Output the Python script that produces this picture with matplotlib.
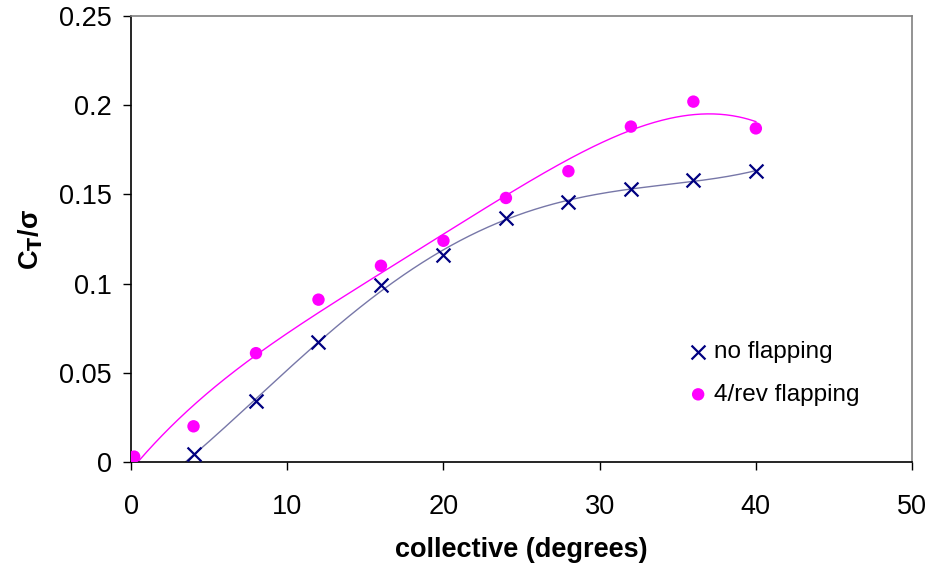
import numpy as np
import matplotlib
matplotlib.use("Agg")
import matplotlib.pyplot as plt

plt.rcParams['font.family'] = ['Liberation Sans', 'DejaVu Sans']

# data
x_noflap = [4, 8, 12, 16, 20, 24, 28, 32, 36, 40]
y_noflap = [0.0045, 0.034, 0.067, 0.099, 0.116, 0.137, 0.146, 0.153, 0.158, 0.163]
x_flap = [0.2, 4, 8, 12, 16, 20, 24, 28, 32, 36, 40]
y_flap = [0.003, 0.020, 0.061, 0.091, 0.110, 0.124, 0.148, 0.163, 0.188, 0.202, 0.187]
xticks = [0, 10, 20, 30, 40, 50]
yticks = [0, 0.05, 0.1, 0.15, 0.2, 0.25]
ytick_labels = ['0', '0.05', '0.1', '0.15', '0.2', '0.25']

fig = plt.figure(figsize=(9.32, 5.67), dpi=100)
ax = fig.add_axes([0.1406, 0.1852, 0.8380, 0.7866])

# polynomial trendlines (as in spreadsheet)
def trend(xs, ys, x0, x1, deg):
    c = np.polyfit(xs, ys, deg)
    xx = np.linspace(x0, x1, 400)
    yy = np.polyval(c, xx)
    m = yy >= 0
    return xx[m], yy[m]

tx, ty = trend(x_noflap, y_noflap, 0, 40, 4)
ax.plot(tx, ty, color='#7777a8', lw=1.0, zorder=2)
tx2, ty2 = trend(x_flap, y_flap, 0, 40, 4)
ax.plot(tx2, ty2, color='#ff00ff', lw=1.0, zorder=2)

ax.scatter(x_noflap, y_noflap, marker='x', s=100, color='#000080', linewidths=1.6,
           zorder=3, label='no flapping')
ax.scatter(x_flap, y_flap, marker='o', s=80, color='#ff00ff', edgecolors='none',
           zorder=3, label='4/rev flapping')

ax.set_xlim(0, 50)
ax.set_ylim(0, 0.25)
ax.set_xticks(xticks)
ax.set_yticks(yticks)
ax.set_yticklabels(ytick_labels)
ax.tick_params(axis='both', direction='out', length=6, width=1, labelsize=19.5, pad=8)
ax.tick_params(axis='x', pad=17)

for s in ['left', 'bottom']:
    ax.spines[s].set_color('black')
    ax.spines[s].set_linewidth(1.2)
for s in ['top', 'right']:
    ax.spines[s].set_color('#808080')
    ax.spines[s].set_linewidth(1.2)

ax.set_xlabel('collective (degrees)', fontsize=19.5, fontweight='bold', labelpad=12)
ax.set_ylabel(r'C$_\mathbf{T}$/σ', fontsize=19.5, fontweight='bold', labelpad=10)

leg = ax.legend(loc='upper left', bbox_to_anchor=(0.695, 0.293), frameon=False,
                fontsize=17.5, handletextpad=0.05, labelspacing=0.85, borderaxespad=0,
                handlelength=1.2, scatterpoints=1)

fig.savefig('out.png', dpi=100)
